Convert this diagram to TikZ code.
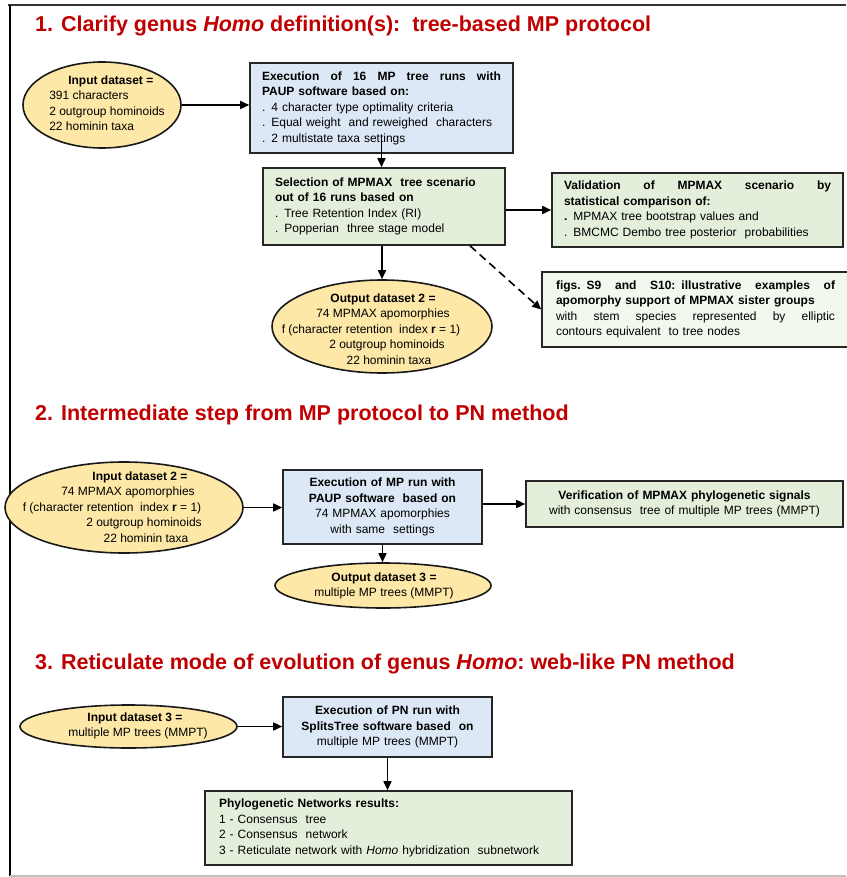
\documentclass[tikz,border=0pt]{standalone}
\usepackage{fontspec}
\setmainfont{Liberation Sans}
\usepackage{tikz}
\usetikzlibrary{shapes.geometric, arrows.meta, positioning, calc}
\definecolor{titlered}{RGB}{192, 0, 0}
\definecolor{ovalyellow}{RGB}{253, 232, 168}
\definecolor{runblue}{RGB}{220, 232, 245}
\definecolor{stepgreen}{RGB}{227, 239, 219}
\definecolor{notegreen}{RGB}{241, 248, 238}
\newcommand{\bodyfont}{\fontsize{12pt}{15.5pt}\selectfont}
\newcommand{\titlefont}{\fontsize{21.5pt}{24pt}\selectfont\bfseries}
% full-width (justified) line inside a node
\newcommand{\justline}[2]{\makebox[#1][s]{\spaceskip=0.3333em plus 1fil\relax #2}}

\begin{document}
\begin{tikzpicture}[x=1pt, y=-1pt,
    box/.style={draw=black!85, line width=1.6pt, rectangle, inner sep=0pt, align=left, font=\bodyfont},
    oval/.style={draw=black!90, line width=1.6pt, ellipse, fill=ovalyellow, inner sep=0pt},
    txt/.style={align=center, font=\bodyfont, inner sep=0pt},
    title/.style={anchor=base west, font=\titlefont, text=titlered, inner sep=0pt},
    arrow/.style={-{Triangle[length=9pt, width=8pt]}, line width=1.6pt}
]
    \useasboundingbox (0,0) rectangle (846,877);

    % Frame
    \draw[line width=2pt, black!80] (8,5) -- (846,5);
    \draw[line width=2.2pt, black] (10,5) -- (10,876);
    \draw[line width=1.2pt, black!25] (10,876) -- (846,876);

    % Section 1
    \node[title] (title1) at (35,32) {1. Clarify genus \textit{Homo} definition(s):\ \ tree-based MP protocol};

    % Input dataset
    \node[oval, minimum width=158pt, minimum height=86pt] (in1) at (102,105) {};
    \node[txt, align=left] (in1t) at (107,103) {\hspace*{19pt}\textbf{Input dataset =}\\391 characters\\2 outgroup hominoids\\22 hominin taxa};

    % MP tree runs
    \node[box, fill=runblue, minimum width=263pt, minimum height=90pt, text width=239pt] (run1) at (381.5,108) {%
        \justline{239pt}{\bfseries Execution of 16 MP tree runs with}\\
        \textbf{PAUP software based on:}\\
        . 4 character type  optimality  criteria\\
        . Equal weight\ \ and reweighed\ \ characters\\
        . 2 multistate taxa settings};

    % Selection
    \node[box, fill=stepgreen, minimum width=242pt, minimum height=77pt, text width=218pt] (sel) at (384,206.5) {%
        \textbf{Selection of MPMAX\ \ tree scenario}\\
        \textbf{out of 16 runs based on}\\
        . Tree Retention Index (RI)\\
        . Popperian\ \ three stage model};

    % Validation
    \node[box, fill=stepgreen, minimum width=291pt, minimum height=74pt, text width=267pt] (val) at (697.5,210) {%
        \justline{267pt}{\bfseries Validation of MPMAX scenario by}\\
        \textbf{statistical comparison of:}\\
        \textbf{.} MPMAX tree bootstrap values and\\
        . BMCMC Dembo tree posterior\ \ probabilities};

    % Output dataset 2
    \node[oval, minimum width=220pt, minimum height=93pt] (out2) at (382,326.5) {};
    \node[txt] (out2t) at (383,329) {\textbf{Output dataset 2 =}\\74 MPMAX apomorphies\\\hspace*{-24pt}f (character retention\ \ index \textbf{r} = 1)\\\hspace*{8pt}2 outgroup hominoids\\\hspace*{12pt}22 hominin taxa};

    % Figs S9 and S10
    \node[box, fill=notegreen, minimum width=318pt, minimum height=75pt, text width=290pt] (figs) at (701,309.5) {%
        \justline{279pt}{\bfseries figs. S9 and S10: illustrative examples of}\\
        \textbf{apomorphy support of MPMAX sister groups}\\
        \justline{279pt}{with stem species represented by elliptic}\\
        contours equivalent\ \ to tree nodes};

    \draw[arrow] (in1.east) -- (in1.east -| run1.west);
    \draw[arrow] ($(run1.south)+(0,-13)$) -- (run1.south |- sel.north);
    \draw[arrow] (sel.east |- val.west) -- (val.west);
    \draw[arrow] (sel.south -| out2.north) -- (out2.north);
    \draw[arrow, dash pattern=on 8pt off 5pt] ([xshift=86pt]sel.south) -- (figs.west);

    % Section 2
    \node[title] (title2) at (35,420) {2. Intermediate step from MP protocol\ to PN method};

    % Input dataset 2
    \node[oval, minimum width=238pt, minimum height=91pt] (in2) at (124,507.5) {};
    \node[txt] (in2t) at (128,507) {\hspace*{24pt}\textbf{Input dataset 2 =}\\74 MPMAX apomorphies\\\hspace*{-32pt}f (character retention\ \ index \textbf{r} = 1)\\\hspace*{32pt}2 outgroup hominoids\\\hspace*{36pt}22 hominin taxa};

    % MP run
    \node[box, fill=runblue, align=center, minimum width=199pt, minimum height=74pt, text width=185pt] (run2) at (382.5,507) {%
        \textbf{Execution of MP run with}\\
        \textbf{PAUP software\ \ based on}\\
        74 MPMAX apomorphies\\
        with same\ \ settings};

    % Verification
    \node[box, fill=stepgreen, align=center, minimum width=317pt, minimum height=46pt, text width=305pt] (ver) at (684.5,504) {%
        \textbf{Verification of MPMAX phylogenetic signals}\\
        with consensus\ \ tree of multiple MP trees (MMPT)};

    % Output dataset 3
    \node[oval, minimum width=216pt, minimum height=45pt] (out3) at (383,585.5) {};
    \node[txt] (out3t) at (384,586) {\textbf{Output dataset 3 =}\\multiple MP trees (MMPT)};

    \draw[arrow] (in2.east) -- (in2.east -| run2.west);
    \draw[arrow] (run2.east |- ver.west) -- (ver.west);
    \draw[arrow] (run2.south) -- (run2.south |- out3.north);

    % Section 3
    \node[title] (title3) at (35,669) {3. Reticulate mode of evolution of genus \textit{Homo}:\ web-like PN method};

    % Input dataset 3
    \node[oval, minimum width=217pt, minimum height=43pt] (in3) at (128.5,726.5) {};
    \node[txt] (in3t) at (138,726) {\hspace*{-6pt}\textbf{Input dataset 3 =}\\multiple MP trees (MMPT)};

    % PN run
    \node[box, fill=runblue, align=center, minimum width=209pt, minimum height=60pt, text width=195pt] (run3) at (387.5,727) {%
        \textbf{Execution of PN run with}\\
        \textbf{SplitsTree software based\ \ on}\\
        multiple MP trees (MMPT)};

    % Results
    \node[box, fill=stepgreen, minimum width=367pt, minimum height=74pt, text width=339pt] (res) at (388.5,828) {%
        \textbf{Phylogenetic Networks results:}\\
        1 - Consensus\ \ tree\\
        2 - Consensus\ \ network\\
        3 - Reticulate network with \textit{Homo} hybridization\ \ subnetwork};

    \draw[arrow] (in3.east) -- (in3.east -| run3.west);
    \draw[arrow] (run3.south) -- (run3.south |- res.north);
\end{tikzpicture}
\end{document}
